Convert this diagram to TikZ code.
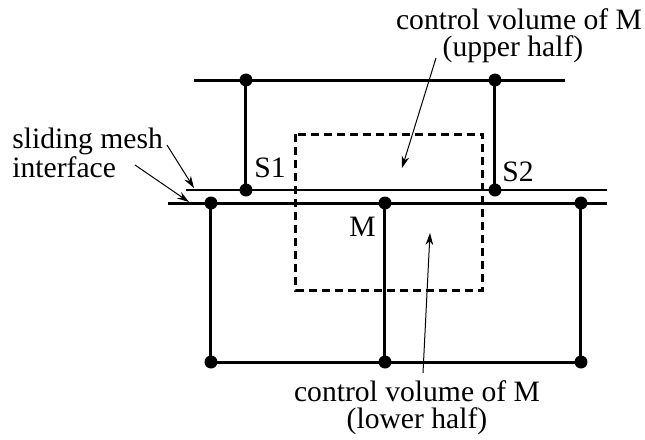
\documentclass[tikz,border=0pt]{standalone}
\usepackage{fontspec}
\setmainfont{Liberation Serif}
\usetikzlibrary{arrows.meta}
\begin{document}
\begin{tikzpicture}[x=0.5pt,y=-0.5pt,
  dot/.style={circle,fill=black,inner sep=0pt,minimum size=6.5pt},
  grid/.style={line width=1.5pt},
  iface/.style={line width=1.25pt},
  cv/.style={line width=1.5pt,dash pattern=on 4pt off 2.5pt},
  lead/.style={line width=0.5pt,-{Stealth[length=6pt,width=3.8pt]}},
  lbl/.style={font=\fontsize{14.8}{17}\selectfont,inner sep=0pt}]
\useasboundingbox (0,0) rectangle (645,440);
% coordinates
\coordinate (tl) at (194,80);
\coordinate (tr) at (565,80);
\coordinate (ul) at (186,190);
\coordinate (ur) at (607,190);
\coordinate (ll) at (168,203);
\coordinate (lr) at (607,203);
% dots
\node[dot] (T1) at (246,80) {};
\node[dot] (T2) at (495,80) {};
\node[dot] (S1) at (246,190) {};
\node[dot] (S2) at (495,190) {};
\node[dot] (L1) at (211,203) {};
\node[dot] (M)  at (385,203) {};
\node[dot] (L3) at (581,203) {};
\node[dot] (B1) at (211,362) {};
\node[dot] (B2) at (385,362) {};
\node[dot] (B3) at (581,362) {};
% lines
\draw[grid] (tl) -- (tr);
\draw[grid] (T1.center) -- (S1.center);
\draw[grid] (T2.center) -- (S2.center);
\draw[iface] (ul) -- (ur);
\draw[grid] (ll) -- (lr);
\draw[grid] (L1.center) -- (B1.center);
\draw[grid] (M.center) -- (B2.center);
\draw[grid] (L3.center) -- (B3.center);
\draw[grid] (B1.center) -- (B3.center);
% control volume
\draw[cv] (296,134) rectangle (483,290);
% labels
\node[lbl,anchor=base west] (S1l) at (254,177) {S1};
\node[lbl,anchor=base west] (S2l) at (502,181) {S2};
\node[lbl,anchor=base west] (Ml) at (349,236) {M};
\node[lbl,anchor=base] (uptxt) at (519,29) {control volume of M};
\node[lbl,anchor=base] (uphalf) at (513,56) {(upper half)};
\node[lbl,anchor=base] (lowtxt) at (417,401) {control volume of M};
\node[lbl,anchor=base] (lowhalf) at (417,428) {(lower half)};
\node[lbl,anchor=base west] (sm) at (12,148) {sliding mesh};
\node[lbl,anchor=base west] (inf) at (12,177) {interface};
% leaders
\coordinate (a1s) at (436,58);
\coordinate (a1e) at (402,168);
\draw[lead] (a1s) -- (a1e);
\coordinate (a2s) at (423,373);
\coordinate (a2e) at (430,233);
\draw[lead] (a2s) -- (a2e);
\coordinate (a3s) at (167,145);
\coordinate (a3e) at (194,188);
\draw[lead] (a3s) -- (a3e);
\coordinate (a4s) at (135,165);
\coordinate (a4e) at (189,202);
\draw[lead] (a4s) -- (a4e);
\end{tikzpicture}
\end{document}
